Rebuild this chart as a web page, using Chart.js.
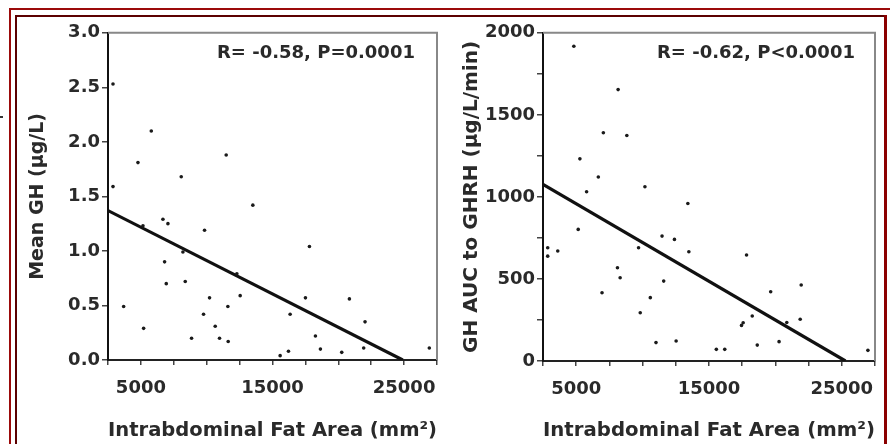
<!DOCTYPE html>
<html><head><meta charset="utf-8">
<script src="https://cdn.jsdelivr.net/npm/chart.js@4.4.0/dist/chart.umd.min.js"></script>
<style>
html,body{margin:0;padding:0;background:#fff;}
#wrap{position:relative;width:890px;height:444px;overflow:hidden;background:#fff;}
.ln{position:absolute;}
canvas{position:absolute;}
.ann{position:absolute;font:bold 18px 'DejaVu Sans';color:#2a2a2a;white-space:nowrap;}
</style></head>
<body><div id="wrap">
<div class="ln" style="left:9px;top:8px;width:881px;height:2px;background:#9b0a0a"></div>
<div class="ln" style="left:9px;top:8px;width:2px;height:436px;background:#9b0a0a"></div>
<div class="ln" style="left:15px;top:15px;width:872px;height:2px;background:#5c0000"></div>
<div class="ln" style="left:15px;top:15px;width:2px;height:429px;background:#5c0000"></div>
<div class="ln" style="left:884px;top:15px;width:3px;height:429px;background:#8b0000"></div>
<div class="ln" style="left:0px;top:116px;width:3px;height:2px;background:#333"></div>
<canvas id="c1" width="430" height="424" style="left:20px;top:20px"></canvas>
<canvas id="c2" width="440" height="424" style="left:450px;top:20px"></canvas>
<div class="ann" style="left:217px;top:41px">R= -0.58, P=0.0001</div>
<div class="ann" style="left:657px;top:41px">R= -0.62, P&lt;0.0001</div>
</div>
<script>
// ---- Data ----
const xTitle = 'Intrabdominal Fat Area (mm\u00B2)';
const xTickLabels = [5000, 15000, 25000];

// Left panel: Mean GH (µg/L)
const leftX = [2880, 2880, 5789, 4777, 8066, 11482, 13506, 6675, 7054, 5157, 9837, 8193, 17807, 6801, 6928, 8370, 12291, 3689, 5207, 10217, 12544, 11608, 9761, 10647, 8850, 10976, 11633, 17503, 16339, 20843, 22032, 18262, 18641, 20261, 21930, 16213, 15580, 26915];
const leftY = [2.53, 1.59, 2.10, 1.81, 1.68, 1.88, 1.42, 1.29, 1.25, 1.23, 1.19, 0.99, 1.04, 0.90, 0.70, 0.72, 0.79, 0.49, 0.29, 0.57, 0.59, 0.49, 0.42, 0.31, 0.20, 0.20, 0.17, 0.57, 0.42, 0.56, 0.35, 0.22, 0.10, 0.07, 0.11, 0.08, 0.04, 0.11];
const leftFitX = [2500, 24900];
const leftFitY = [1.37, 0];
const leftYTitle = 'Mean GH (\u00B5g/L)';

// Right panel: GH AUC to GHRH (µg/L/min)
const rightX = [4823, 8156, 7045, 8813, 5278, 6666, 5783, 10176, 13408, 5151, 2854, 2854, 3611, 9696, 11464, 12398, 13484, 8106, 8308, 11590, 6944, 10580, 9823, 11009, 12524, 17827, 19645, 21943, 18256, 17574, 17448, 21867, 20857, 18635, 20276, 15554, 16186, 26967];
const rightY = [1918, 1654, 1391, 1374, 1232, 1121, 1031, 1062, 960, 802, 690, 639, 670, 690, 761, 741, 666, 568, 507, 487, 416, 386, 294, 112, 122, 646, 422, 463, 274, 233, 217, 254, 235, 97, 118, 71, 71, 65];
const rightFitX = [2500, 25276];
const rightFitY = [1076, 0];
const rightYTitle = 'GH AUC to GHRH (\u00B5g/L/min)';

const FONT = "'DejaVu Sans'";
const TXT = '#2a2a2a';

const framePlugin = {
  id: 'frame',
  beforeDatasetsDraw(chart) {
    const {ctx, chartArea: a} = chart;
    ctx.save();
    ctx.strokeStyle = '#888';
    ctx.lineWidth = 2;
    ctx.beginPath();
    ctx.moveTo(a.left, a.top); ctx.lineTo(a.right, a.top); ctx.lineTo(a.right, a.bottom);
    ctx.stroke();
    ctx.restore();
  }
};

function toPts(xs, ys) { return xs.map((x, i) => ({x: x, y: ys[i]})); }

function makeChart(id, xs, ys, fx, fy, yOpts) {
  return new Chart(document.getElementById(id), {
    type: 'scatter',
    data: {
      datasets: [
        { data: toPts(xs, ys), backgroundColor: '#1a1a1a', borderWidth: 0, pointRadius: 1.8, pointHoverRadius: 1.8 },
        { type: 'line', data: toPts(fx, fy), borderColor: '#111', borderWidth: 3.2, pointRadius: 0, fill: false, showLine: true }
      ]
    },
    options: {
      responsive: false, animation: false, devicePixelRatio: 1,
      layout: { padding: { left: 0, top: 12, right: yOpts.padRight, bottom: 0 } },
      plugins: { legend: { display: false }, tooltip: { enabled: false } },
      scales: {
        x: {
          type: 'linear', min: 2500, max: 27500,
          afterFit: s => { s.height = yOpts.xHeight; },
          ticks: {
            stepSize: 2500, autoSkip: false, maxRotation: 0, padding: 13, color: TXT,
            font: { family: FONT, size: 18, weight: 'bold' },
            callback: v => xTickLabels.includes(v) ? String(v) : ''
          },
          grid: { drawOnChartArea: false, drawTicks: true, tickLength: 5, color: '#444', lineWidth: 1.5 },
          border: { display: true, color: '#222', width: 2 },
          title: { display: true, text: xTitle, color: TXT, font: { family: FONT, size: 20, weight: 'bold' }, padding: { top: 0, bottom: 1 } }
        },
        y: {
          type: 'linear', min: yOpts.min, max: yOpts.max,
          afterFit: s => { s.width = yOpts.yWidth; },
          ticks: {
            stepSize: yOpts.step, autoSkip: false, padding: 2, color: TXT,
            font: { family: FONT, size: 18, weight: 'bold' },
            callback: yOpts.cb
          },
          grid: { drawOnChartArea: false, drawTicks: true, tickLength: 6, color: '#444', lineWidth: 1.5 },
          border: { display: true, color: '#111', width: 2 },
          title: { display: true, text: yOpts.title, color: TXT, font: { family: FONT, size: yOpts.titleSize, weight: 'bold' }, padding: { top: yOpts.titlePad, bottom: 0 } }
        }
      }
    },
    plugins: [framePlugin]
  });
}

makeChart('c1', leftX, leftY, leftFitX, leftFitY, {
  min: 0, max: 3, step: 0.5, cb: v => v.toFixed(1), title: leftYTitle, titleSize: 19, titlePad: 7,
  yWidth: 88, xHeight: 84, padRight: 12
});
makeChart('c2', rightX, rightY, rightFitX, rightFitY, {
  min: 0, max: 2000, step: 250, cb: v => (v % 500 === 0 ? String(v) : ''), title: rightYTitle, titleSize: 20, titlePad: 10,
  yWidth: 93, xHeight: 83, padRight: 15
});
</script>
</body></html>
